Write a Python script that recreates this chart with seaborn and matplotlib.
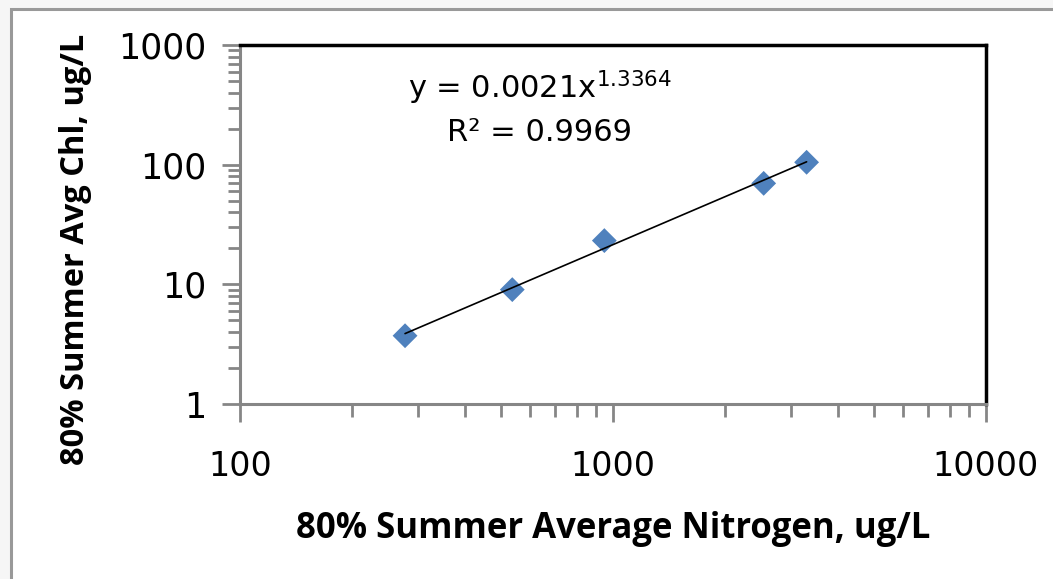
import numpy as np
import pandas as pd
import matplotlib
matplotlib.use("Agg")
import matplotlib.pyplot as plt
from matplotlib.patches import Rectangle
from matplotlib.ticker import LogLocator, NullFormatter, FixedLocator, FixedFormatter
import seaborn as sns

# Data
nitrogen = [277, 537, 948, 2535, 3304]
chl = [3.72, 9.03, 23.2, 69.8, 104.7]
x_ticks = [100, 1000, 10000]
x_tick_labels = ["100", "1000", "10000"]
y_ticks = [1, 10, 100, 1000]
y_tick_labels = ["1", "10", "100", "1000"]
equation = "y = 0.0021x$^{1.3364}$"
r2_text = "R² = 0.9969"
x_title = "80% Summer Average Nitrogen, ug/L"
y_title = "80% Summer Avg Chl, ug/L"

sns.set_theme(style="white")
plt.rcParams['font.family'] = ['Open Sans', 'DejaVu Sans']
plt.rcParams['text.color'] = 'black'
plt.rcParams['axes.labelcolor'] = 'black'

W, H = 1053, 579
fig = plt.figure(figsize=(W / 100, H / 100), dpi=100, facecolor="#f6f6f6")
fig.patches.append(Rectangle((11 / W, -0.02), (W - 11 + 10) / W, (H - 9) / H + 0.02,
                             transform=fig.transFigure, facecolor="white",
                             edgecolor="#999999", linewidth=2.2, zorder=-5))

ax = fig.add_axes([240 / W, (H - 404) / H, (986 - 240) / W, (404 - 45) / H])
ax.set_facecolor("none")
ax.set_zorder(2)

df = pd.DataFrame({"N": nitrogen, "Chl": chl})

# Power trendline fit (log-log least squares)
b, loga = np.polyfit(np.log(df["N"]), np.log(df["Chl"]), 1)
xs = np.geomspace(df["N"].min(), df["N"].max(), 60)
trend = pd.DataFrame({"N": xs, "Chl": np.exp(loga) * xs ** b})

sns.scatterplot(data=df, x="N", y="Chl", marker="D", s=160, color="#4F81BD",
                edgecolor="none", ax=ax, zorder=3)
sns.lineplot(data=trend, x="N", y="Chl", color="black", linewidth=1.2, ax=ax, zorder=4)

ax.set_xscale("log")
ax.set_yscale("log")
ax.set_xlim(100, 10000)
ax.set_ylim(1, 1000)

ax.xaxis.set_major_locator(FixedLocator(x_ticks))
ax.xaxis.set_major_formatter(FixedFormatter(x_tick_labels))
ax.yaxis.set_major_locator(FixedLocator(y_ticks))
ax.yaxis.set_major_formatter(FixedFormatter(y_tick_labels))
ax.xaxis.set_minor_locator(LogLocator(base=10, subs=np.arange(2, 10)))
ax.yaxis.set_minor_locator(LogLocator(base=10, subs=np.arange(2, 10)))
ax.xaxis.set_minor_formatter(NullFormatter())
ax.yaxis.set_minor_formatter(NullFormatter())

tick_col = "#868686"
ax.tick_params(axis="both", which="major", direction="out", length=13, width=2,
               color=tick_col, bottom=True, left=True, top=False, right=False)
ax.tick_params(axis="both", which="minor", direction="out", length=9, width=2,
               color=tick_col, bottom=True, left=True, top=False, right=False)
ax.tick_params(axis="x", which="major", pad=20)
ax.tick_params(axis="y", which="major", pad=11)

for lab in ax.get_xticklabels():
    lab.set_fontfamily(["Liberation Sans Narrow", "DejaVu Sans"])
    lab.set_fontsize(24)
    lab.set_color("black")
for lab in ax.get_yticklabels():
    lab.set_fontfamily(["DejaVu Sans"])
    lab.set_fontsize(25)
    lab.set_color("black")

for side in ["left", "bottom"]:
    ax.spines[side].set_color(tick_col)
    ax.spines[side].set_linewidth(2.2)
for side in ["top", "right"]:
    ax.spines[side].set_color("black")
    ax.spines[side].set_linewidth(2.5)

ax.set_xlabel(x_title, fontsize=25, fontweight="bold", labelpad=20, color="black")
ax.set_ylabel(y_title, fontsize=23.5, fontweight="bold", color="black")
ax.yaxis.set_label_coords(-0.198, 0.432)

ax.text(0.402, 0.85, equation, transform=ax.transAxes, fontsize=22,
        ha="center", va="baseline", color="black", family=["DejaVu Sans"])
ax.text(0.402, 0.733, r2_text, transform=ax.transAxes, fontsize=22,
        ha="center", va="baseline", color="black", family=["DejaVu Sans"])

fig.savefig("out.png", dpi=100, facecolor=fig.get_facecolor())
